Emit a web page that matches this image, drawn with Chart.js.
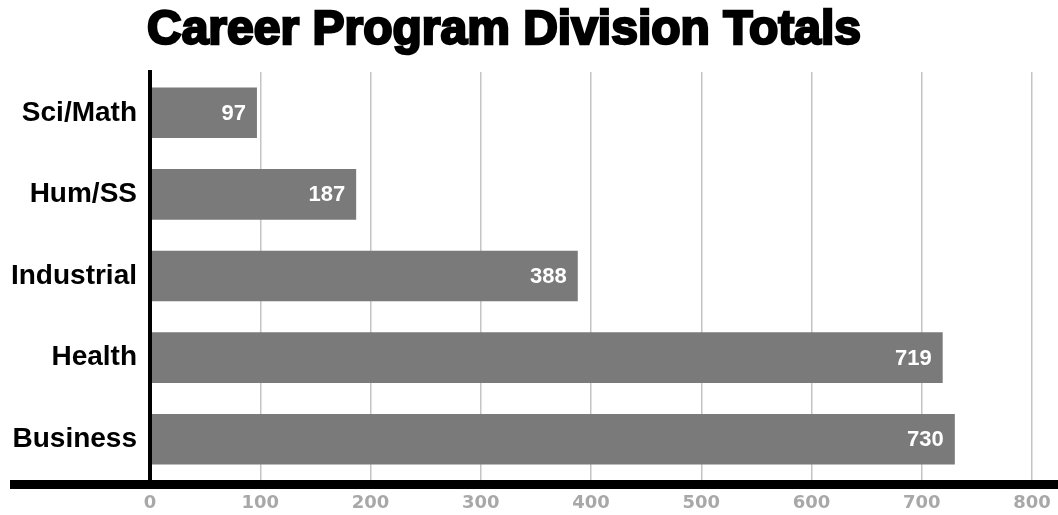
<!DOCTYPE html>
<html>
<head>
<meta charset="utf-8">
<title>Career Program Division Totals</title>
<script src="https://cdn.jsdelivr.net/npm/chart.js@4"></script>
<style>
    html, body { margin: 0; padding: 0; background: #fff; }
    #wrap { width: 1058px; height: 515px; position: relative; }
</style>
</head>
<body>
<div id="wrap"><canvas id="divisionChart"></canvas></div>
<script>
const titleText = 'Career Program Division Totals';
const divisions = ['Sci/Math', 'Hum/SS', 'Industrial', 'Health', 'Business'];
const totals = [97, 187, 388, 719, 730];
const xTicks = [0, 100, 200, 300, 400, 500, 600, 700, 800];

// Heavy title, value labels and the black axis rules
const decorations = {
    id: 'decorations',
    afterDatasetsDraw(chart) {
        const ctx = chart.ctx;
        const area = chart.chartArea;
        ctx.save();

        // value labels inside the bar ends
        ctx.fillStyle = '#ffffff';
        ctx.font = 'bold 22px "Liberation Sans", Arial, sans-serif';
        ctx.textAlign = 'right';
        ctx.textBaseline = 'middle';
        chart.getDatasetMeta(0).data.forEach((bar, i) => {
            ctx.fillText(String(totals[i]), bar.x - 11, bar.y + 1);
        });

        // vertical axis rule
        ctx.fillStyle = '#000';
        ctx.fillRect(area.left - 2, area.top - 2, 4, area.bottom - area.top + 4);
        // heavy baseline running past the labels
        ctx.fillRect(10, area.bottom, chart.width - 10, 9);

        // title
        ctx.font = 'bold 48px "Liberation Sans", Arial, sans-serif';
        ctx.textAlign = 'center';
        ctx.textBaseline = 'middle';
        ctx.lineWidth = 2.5;
        ctx.strokeStyle = '#000';
        ctx.strokeText(titleText, 504, 31);
        ctx.fillText(titleText, 504, 31);
        ctx.restore();
    }
};

new Chart(document.getElementById('divisionChart'), {
    type: 'bar',
    data: {
        labels: divisions,
        datasets: [{
            data: totals,
            backgroundColor: '#7a7a7a',
            borderWidth: 0,
            categoryPercentage: 1,
            barPercentage: 0.62
        }]
    },
    options: {
        indexAxis: 'y',
        responsive: true,
        maintainAspectRatio: false,
        animation: false,
        layout: {
            padding: { top: 72, right: 26, left: 0, bottom: 0 }
        },
        plugins: {
            legend: { display: false },
            tooltip: { enabled: false },
            title: { display: false }
        },
        scales: {
            x: {
                min: xTicks[0],
                max: xTicks[xTicks.length - 1],
                afterBuildTicks: (scale) => {
                    scale.ticks = xTicks.map(v => ({ value: v }));
                },
                afterFit: (scale) => {
                    scale.height = 35;
                    // let the last tick label hang over the right padding
                    scale.paddingLeft = 0;
                    scale.paddingRight = 0;
                },
                grid: {
                    color: '#c4c4c4',
                    lineWidth: 1.5,
                    drawTicks: false
                },
                border: { display: false },
                ticks: {
                    padding: 13,
                    color: '#a8a8a8',
                    font: { family: '"DejaVu Sans", sans-serif', size: 18, weight: 'bold' }
                }
            },
            y: {
                afterFit: (scale) => { scale.width = 150; },
                grid: { display: false, drawTicks: false },
                border: { display: false },
                ticks: {
                    padding: 13,
                    color: '#000',
                    font: { family: '"Liberation Sans", Arial, sans-serif', size: 28, weight: 'bold' }
                }
            }
        }
    },
    plugins: [decorations]
});
</script>
</body>
</html>
